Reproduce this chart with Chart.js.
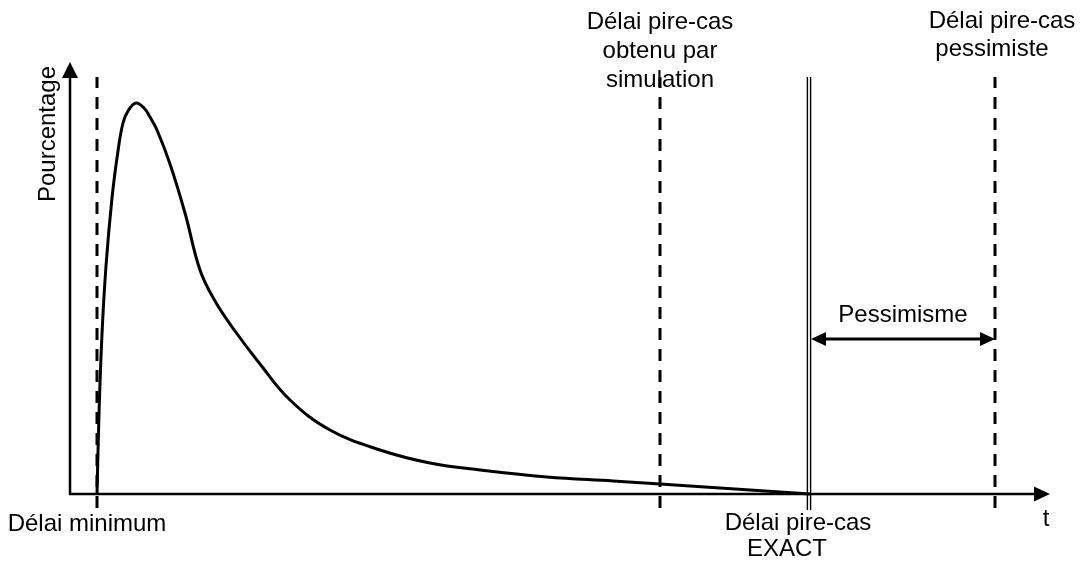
<!DOCTYPE html>
<html lang="fr">
<head>
<meta charset="utf-8">
<title>Pessimisme</title>
<script src="https://cdn.jsdelivr.net/npm/chart.js@4.4.0/dist/chart.umd.min.js"></script>
<style>
    html, body { margin: 0; padding: 0; background: #fff; }
    #wrap { width: 1082px; height: 568px; position: relative; }
</style>
</head>
<body>
<div id="wrap"><canvas id="chart"></canvas></div>
<script>
// ── Data ───────────────────────────────────────────────────────
const curveT   = [27, 29, 32, 36, 42, 48, 53, 58, 66, 74, 80, 87, 100, 115, 130, 145, 165, 190, 220, 260, 310, 360, 410, 477, 543, 590, 740];
const curvePct = [0, 80, 160, 228, 296, 343, 371, 383, 391, 386, 377, 364, 330, 281, 224, 193, 163, 130, 94, 64, 44, 31, 24, 17, 13, 10, 0];

// délai minimum, simulation, exact (double trait), pessimiste
const markerT      = [27, 590, 739, 925];
const markerSpan   = [-14, 417];
const pessimismeY  = 155;

const topLabels    = [['Délai pire-cas', 'obtenu par', 'simulation'], ['Délai pire-cas', 'pessimiste']];
const bottomLabels = [['Délai minimum'], ['Délai pire-cas', 'EXACT']];
const axisLabelX   = 't';
const axisLabelY   = 'Pourcentage';
const arrowLabel   = 'Pessimisme';

const FONT = '24px "Liberation Sans", Arial, sans-serif';

// ── Vertical marker datasets ───────────────────────────────────
const vline = (t, dash, width, y0 = markerSpan[0]) => ({
    data: [{ x: t, y: y0 }, { x: t, y: markerSpan[1] }],
    borderColor: '#000', borderWidth: width, borderDash: dash,
    pointRadius: 0, tension: 0, clip: false
});

const datasets = [
    {
        data: curveT.map((t, i) => ({ x: t, y: curvePct[i] })),
        borderColor: '#000', borderWidth: 3, pointRadius: 0,
        tension: 0.4, clip: false
    },
    vline(markerT[0], [12, 9], 3),
    vline(markerT[1], [12, 9], 3),
    vline(markerT[3], [12, 9], 3),
    vline(markerT[2] - 1.6, [], 1.4, -16),
    vline(markerT[2] + 1.6, [], 1.4, -16)
];

// ── Axes, arrows, texts ────────────────────────────────────────
const arrowHead = (ctx, x, y, dir, len, half) => {
    ctx.beginPath();
    if (dir === 'up') {
        ctx.moveTo(x, y); ctx.lineTo(x - half, y + len); ctx.lineTo(x + half, y + len);
    } else if (dir === 'right') {
        ctx.moveTo(x, y); ctx.lineTo(x - len, y - half); ctx.lineTo(x - len, y + half);
    } else {
        ctx.moveTo(x, y); ctx.lineTo(x + len, y - half); ctx.lineTo(x + len, y + half);
    }
    ctx.closePath();
    ctx.fill();
};

const drawLines = (ctx, lines, cx, y0, step) => {
    lines.forEach((s, i) => ctx.fillText(s, cx[i] ?? cx[0], y0 + i * step));
};

const decorPlugin = {
    id: 'decor',
    afterDraw(chart) {
        const { ctx, chartArea: a, scales: { x, y } } = chart;
        ctx.save();
        ctx.fillStyle = '#000';
        ctx.strokeStyle = '#000';

        // axes
        ctx.lineWidth = 2.5;
        ctx.beginPath();
        ctx.moveTo(a.left, a.top + 14);
        ctx.lineTo(a.left, a.bottom);
        ctx.lineTo(a.right - 14, a.bottom);
        ctx.stroke();
        arrowHead(ctx, a.left, a.top, 'up', 16, 8);
        arrowHead(ctx, a.right, a.bottom, 'right', 16, 7.5);

        // pessimisme arrow
        const px0 = x.getPixelForValue(markerT[2]) + 2;
        const px1 = x.getPixelForValue(markerT[3]);
        const py  = y.getPixelForValue(pessimismeY);
        ctx.lineWidth = 3;
        ctx.beginPath();
        ctx.moveTo(px0 + 12, py);
        ctx.lineTo(px1 - 12, py);
        ctx.stroke();
        arrowHead(ctx, px0, py, 'left', 15, 7);
        arrowHead(ctx, px1, py, 'right', 15, 7);

        // texts
        ctx.font = FONT;
        ctx.textAlign = 'center';
        ctx.textBaseline = 'middle';
        ctx.fillText(arrowLabel, (px0 + px1) / 2, py - 24);

        const xs = markerT.map(t => x.getPixelForValue(t));
        drawLines(ctx, topLabels[0], [xs[1]], 22, 29);
        drawLines(ctx, topLabels[1], [xs[3] + 7, xs[3] - 3], 21, 28);
        drawLines(ctx, bottomLabels[0], [xs[0] - 10], a.bottom + 30, 26);
        drawLines(ctx, bottomLabels[1], [xs[2] - 11, xs[2] - 22], a.bottom + 29, 26);
        ctx.fillText(axisLabelX, a.right - 4, a.bottom + 25);

        ctx.translate(a.left - 22, a.top + 72);
        ctx.rotate(-Math.PI / 2);
        ctx.fillText(axisLabelY, 0, 0);
        ctx.restore();
    }
};

new Chart(document.getElementById('chart'), {
    type: 'line',
    data: { datasets },
    options: {
        responsive: true,
        maintainAspectRatio: false,
        animation: false,
        layout: { padding: { left: 70, right: 32, top: 62, bottom: 74 } },
        plugins: { legend: { display: false }, tooltip: { enabled: false } },
        scales: {
            x: { type: 'linear', min: 0, max: 980, display: false },
            y: { type: 'linear', min: 0, max: 432, display: false }
        }
    },
    plugins: [decorPlugin]
});
</script>
</body>
</html>
